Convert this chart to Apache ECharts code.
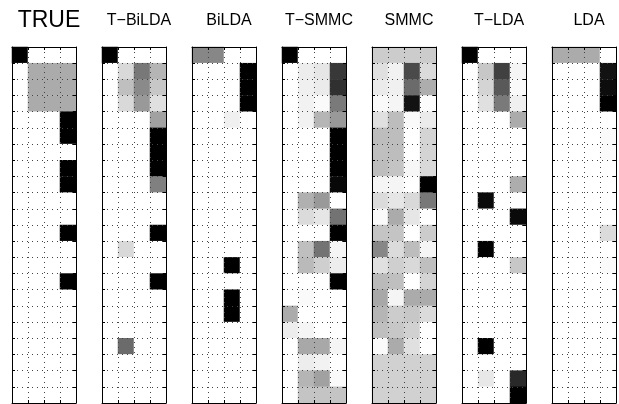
<!DOCTYPE html>
<html>
<head>
<meta charset="utf-8">
<script src="https://cdn.jsdelivr.net/npm/echarts@6/dist/echarts.min.js"></script>
<style>
  html, body { margin: 0; padding: 0; background: #fff; }
  #main { width: 619px; height: 404px; }
</style>
</head>
<body>
<div id="main"></div>
<script>
// panel titles
var titles = ["TRUE", "T\u2212BiLDA", "BiLDA", "T\u2212SMMC", "SMMC", "T\u2212LDA", "LDA"];
var cols = ["1", "2", "3", "4"];
var rows = [];
for (var r = 1; r <= 22; r++) rows.push(String(r));

// darkness per cell (0 = white, 1 = black), 22 rows x 4 columns, top row first
var trueVals = [
  [1, 0, 0, 0], [0, .33, .33, .33], [0, .33, .33, .33], [0, .33, .33, .33],
  [0, 0, 0, 1], [0, 0, 0, 1], [0, 0, 0, 0], [0, 0, 0, 1], [0, 0, 0, 1],
  [0, 0, 0, 0], [0, 0, 0, 0], [0, 0, 0, 1], [0, 0, 0, 0], [0, 0, 0, 0],
  [0, 0, 0, 1], [0, 0, 0, 0], [0, 0, 0, 0], [0, 0, 0, 0], [0, 0, 0, 0],
  [0, 0, 0, 0], [0, 0, 0, 0], [0, 0, 0, 0]
];
var tBiLDA = [
  [1, 0, 0, 0], [0, .15, .53, .29], [0, .25, .46, .22], [0, .15, .40, .12],
  [0, 0, 0, .37], [0, 0, 0, 1], [0, 0, 0, 1], [0, 0, 0, 1], [0, 0, 0, .5],
  [0, 0, 0, 0], [0, 0, 0, 0], [0, 0, 0, 1], [0, .15, 0, 0], [0, 0, 0, 0],
  [0, 0, 0, 1], [0, 0, 0, 0], [0, 0, 0, 0], [0, 0, 0, 0], [0, .58, 0, 0],
  [0, 0, 0, 0], [0, 0, 0, 0], [0, 0, 0, 0]
];
var biLDA = [
  [.47, .47, 0, 0], [0, 0, 0, 1], [0, 0, 0, 1], [0, 0, 0, 1],
  [0, 0, .06, 0], [0, 0, 0, 0], [0, 0, 0, 0], [0, 0, 0, 0], [0, 0, 0, 0],
  [0, 0, 0, 0], [0, 0, 0, 0], [0, 0, 0, 0], [0, 0, 0, 0], [0, 0, 1, 0],
  [0, 0, 0, 0], [0, 0, 1, 0], [0, 0, 1, 0], [0, 0, 0, 0], [0, 0, 0, 0],
  [0, 0, 0, 0], [0, 0, 0, 0], [0, 0, 0, 0]
];
var tSMMC = [
  [1, 0, 0, 0], [0, .07, .10, .78], [0, .06, .08, .81], [0, .05, .02, .52],
  [0, .05, .29, .40], [0, 0, 0, 1], [0, 0, 0, 1], [0, 0, 0, 1], [0, 0, 0, .97],
  [0, .31, .40, 0], [0, .14, .10, .55], [0, 0, 0, 1], [0, .25, .55, .04],
  [0, .27, .19, .07], [0, 0, 0, 1], [0, .02, 0, 0], [.33, 0, 0, 0],
  [.07, .04, 0, 0], [0, .34, .34, .04], [0, .07, .05, 0], [0, .29, .37, .02],
  [0, .23, .23, .23]
];
var smmc = [
  [.2, .2, .2, .2], [.12, .05, .71, .14], [.08, .06, .58, .32], [.02, .04, .93, .01],
  [.12, .26, .02, .08], [.26, .26, 0, .17], [.25, .26, 0, .17], [.26, .23, .03, .15],
  [.04, .04, 0, 1], [.14, .10, .15, .53], [.02, .33, .10, 0], [.23, .23, 0, .20],
  [.47, .14, .26, .04], [.12, .19, .15, .25], [.27, .25, 0, .17], [.34, .04, .33, .33],
  [.29, .20, .22, .14], [.25, .22, .18, 0], [.02, .33, .12, 0], [.18, .18, .18, .18],
  [.18, .18, .18, .18], [.18, .18, .18, .18]
];
var tLDA = [
  [1, 0, 0, 0], [0, .22, .75, .04], [0, .17, .65, .02], [0, .12, .52, .06],
  [0, 0, 0, .33], [0, 0, 0, 0], [0, 0, 0, 0], [0, 0, 0, 0], [0, 0, 0, .32],
  [0, .96, 0, 0], [0, 0, 0, .96], [0, 0, 0, 0], [0, 1, 0, 0], [0, 0, 0, .22],
  [0, 0, 0, 0], [0, 0, 0, 0], [0, 0, 0, 0], [0, 0, 0, 0], [0, 1, 0, 0],
  [0, 0, 0, 0], [0, .09, 0, .84], [0, 0, 0, 1]
];
var lda = [
  [.33, .33, .33, 0], [0, 0, 0, .93], [0, 0, 0, .95], [0, 0, 0, 1],
  [0, 0, 0, 0], [0, 0, 0, .02], [0, 0, 0, .02], [0, 0, 0, 0], [0, 0, 0, 0],
  [0, 0, 0, 0], [0, 0, 0, 0], [0, 0, 0, .14], [0, 0, 0, 0], [0, 0, 0, .02],
  [0, 0, 0, 0], [0, 0, 0, 0], [0, 0, 0, 0], [0, 0, 0, 0], [0, 0, 0, 0],
  [0, 0, 0, 0], [0, 0, 0, 0], [0, 0, 0, 0]
];
var panels = [trueVals, tBiLDA, biLDA, tSMMC, smmc, tLDA, lda];

var chart = echarts.init(document.getElementById("main"));

var grids = [], xAxes = [], yAxes = [], series = [], titleList = [];
var dotted = { color: "#444", width: 1, type: [1, 4] };

panels.forEach(function (vals, i) {
  var left = 12 + 90 * i;
  grids.push({ left: left, top: 47, width: 64, height: 356 });
  titleList.push({
    text: titles[i],
    left: left + 32,
    top: i === 0 ? 4 : 8,
    textAlign: "center",
    textStyle: {
      fontFamily: "Liberation Sans",
      fontWeight: "normal",
      fontSize: i === 0 ? 23 : 16,
      color: "#000"
    }
  });
  var axisBase = {
    type: "category",
    gridIndex: i,
    z: 5,
    axisLine: { show: true, onZero: false, lineStyle: { color: "#000", width: 1 } },
    axisTick: { show: true, inside: true, length: 3, interval: 0, lineStyle: { color: "#000" } },
    axisLabel: { show: false },
    splitLine: { show: false }
  };
  xAxes.push(Object.assign({}, axisBase, {
    data: cols, position: "bottom",
    splitLine: { show: true, interval: 0, lineStyle: dotted }
  }));
  xAxes.push(Object.assign({}, axisBase, { data: cols, position: "top" }));
  yAxes.push(Object.assign({}, axisBase, {
    data: rows, inverse: true, position: "left",
    splitLine: { show: true, interval: 0, lineStyle: dotted }
  }));
  yAxes.push(Object.assign({}, axisBase, { data: rows, inverse: true, position: "right" }));

  var data = [];
  vals.forEach(function (row, r) {
    row.forEach(function (v, c) { data.push([c, r, v]); });
  });
  series.push({
    type: "heatmap",
    xAxisIndex: 2 * i,
    yAxisIndex: 2 * i,
    data: data,
    itemStyle: { borderWidth: 0 },
    emphasis: { disabled: true },
    silent: true
  });
});

chart.setOption({
  animation: false,
  backgroundColor: "#fff",
  title: titleList,
  grid: grids,
  xAxis: xAxes,
  yAxis: yAxes,
  visualMap: {
    show: false,
    type: "continuous",
    min: 0,
    max: 1,
    inRange: { color: ["#ffffff", "#000000"] }
  },
  series: series
});
</script>
</body>
</html>
